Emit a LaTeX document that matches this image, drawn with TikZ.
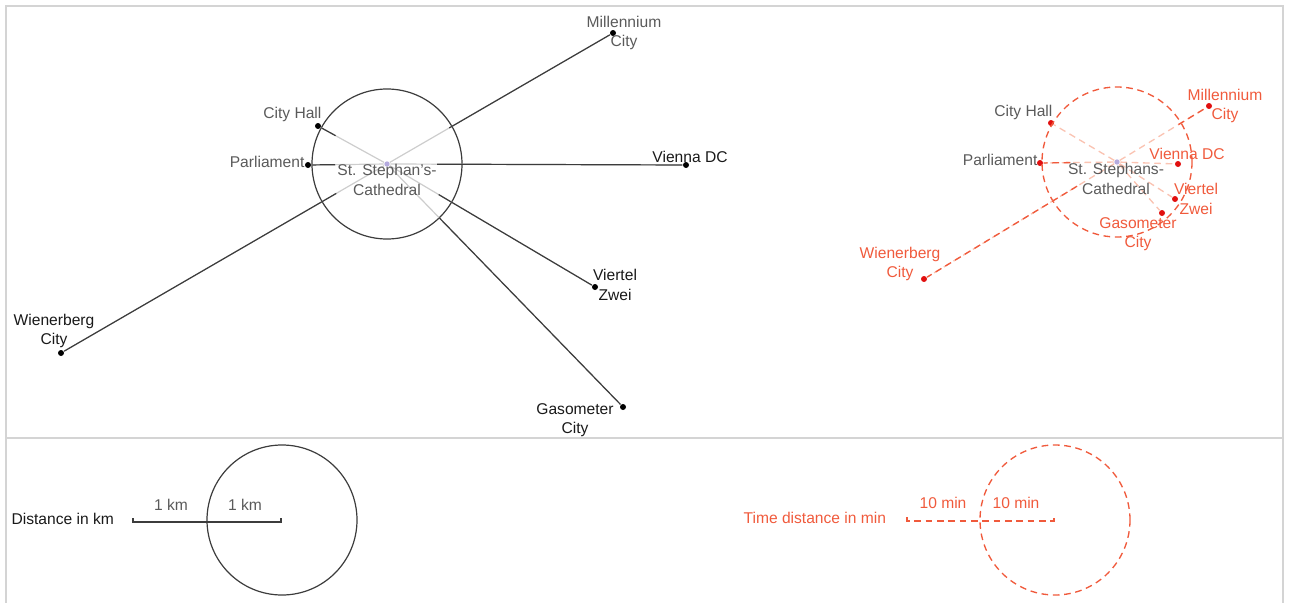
\documentclass[tikz,border=0pt]{standalone}
\usepackage{fontspec}
\setmainfont{Liberation Sans}
\usetikzlibrary{calc}

\definecolor{darkline}{RGB}{60,60,60}
\definecolor{paleline}{RGB}{205,205,205}
\definecolor{labelgray}{RGB}{90,90,90}
\definecolor{labeldark}{RGB}{25,25,25}
\definecolor{timered}{RGB}{240,90,60}
\definecolor{dotred}{RGB}{225,15,15}
\definecolor{palered}{RGB}{250,195,178}
\definecolor{hubdot}{RGB}{180,170,222}
\definecolor{framegray}{RGB}{212,212,212}

\tikzset{every picture/.style={line width=0.9pt}}
\tikzset{
  place/.style={circle,fill=black,inner sep=0pt,minimum size=4.5pt},
  tplace/.style={circle,fill=dotred,inner sep=0pt,minimum size=4.5pt},
  hub/.style={circle,fill=hubdot,inner sep=0pt,minimum size=4pt},
  lbl/.style={inner sep=0.75pt,align=center,font=\fontsize{11.7}{14.5}\selectfont},
  graylbl/.style={lbl,text=labelgray},
  darklbl/.style={lbl,text=labeldark},
  redlbl/.style={lbl,text=timered},
  timedash/.style={draw=timered,line width=1pt,dash pattern=on 5pt off 3.5pt},
  paledash/.style={draw=palered,line width=1pt,dash pattern=on 5pt off 3.5pt}
}

\begin{document}
\begin{tikzpicture}[x=0.75pt,y=0.75pt,yscale=-1,xscale=1]
        \useasboundingbox (0,0) rectangle (1289,603);

        %Shape: Frame
        \draw [framegray,line width=1pt] (6,603) -- (6,6) -- (1283,6) -- (1283,603) ;
        \draw [framegray,line width=1.5pt] (6,438) -- (1283,438) ;

        % Distance map
        \node [hub] (lhub) at (387,164) {};
        \node [place] (lch) at (318,126) {};
        \node [place] (lparl) at (308,165) {};
        \node [place] (lmil) at (613,33) {};
        \node [place] (lvdc) at (686,165) {};
        \node [place] (lvz) at (595,287) {};
        \node [place] (lgas) at (623,407) {};
        \node [place] (lwb) at (61,353) {};

        %Shape: Circle
        \draw [darkline] (lhub) circle (75) ;

        \foreach \p/\d in {lch/44pt,lparl/39pt,lmil/54pt,lvdc/37.5pt,lvz/45pt,lgas/56pt,lwb/44pt}{
          \draw [paleline] (lhub) -- (\p) ;
          \draw [darkline] ($(lhub)!\d!(\p)$) -- (\p) ;
        }

        % Text Node
        \node [graylbl,anchor=east] (lchlbl) at (323,114) {City Hall};
        \node [graylbl,anchor=east] (lparllbl) at (306,162) {Parliament};
        \node [graylbl] (lmillbl) at (624,33) {Millennium\\City};
        \node [darklbl] (lvdclbl) at (690,157) {Vienna DC};
        \node [darklbl] (lvzlbl) at (615,285) {Viertel\\Zwei};
        \node [darklbl] (lgaslbl) at (575,420) {Gasometer\\City};
        \node [darklbl] (lwblbl) at (54,331) {Wienerberg\\City};
        \node [graylbl] (lhublbl) at (387,180) {St. Stephan's-\\Cathedral};

        % Time map
        \node [hub] (rhub) at (1117,162) {};
        \node [tplace] (rch) at (1051,123) {};
        \node [tplace] (rparl) at (1040,163) {};
        \node [tplace] (rmil) at (1209,106) {};
        \node [tplace] (rvdc) at (1178,164) {};
        \node [tplace] (rvz) at (1175,199) {};
        \node [tplace] (rgas) at (1162,213) {};
        \node [tplace] (rwb) at (924,279) {};

        %Shape: Circle
        \draw [timedash] (rhub) circle (75) ;

        \foreach \p in {rch,rparl,rmil,rvdc,rvz,rgas,rwb}{
          \draw [paledash] (rhub) -- (\p) ;
        }
        \foreach \p/\d in {rparl/35pt,rmil/54pt,rwb/35pt}{
          \draw [timedash] ($(rhub)!\d!(\p)$) -- (\p) ;
        }

        % Text Node
        \node [graylbl,anchor=east] (rchlbl) at (1054,112) {City Hall};
        \node [graylbl,anchor=east] (rparllbl) at (1039,160) {Parliament};
        \node [redlbl] (rmillbl) at (1225,106) {Millennium\\City};
        \node [redlbl] (rvdclbl) at (1187,154) {Vienna DC};
        \node [redlbl] (rvzlbl) at (1196,199) {Viertel\\Zwei};
        \node [redlbl] (rgaslbl) at (1138,234) {Gasometer\\City};
        \node [redlbl] (rwblbl) at (900,264) {Wienerberg\\City};
        \node [graylbl] (rhublbl) at (1116,179) {St. Stephans-\\Cathedral};

        % Legend km
        \node [darklbl,anchor=west] (kmlbl) at (10,519) {Distance in km};
        \coordinate (kmA) at (133,522);
        \coordinate (kmB) at (281,522);
        \draw [darkline] ($(kmA)+(0,-4)$) -- (kmA) -- (kmB) -- ($(kmB)+(0,-4)$) ;
        \draw [darkline] (282,520) circle (75) ;
        \node [graylbl] (kmone) at (171,505) {1 km};
        \node [graylbl] (kmtwo) at (245,505) {1 km};

        % Legend min
        \node [redlbl,anchor=west] (minlbl) at (742,518) {Time distance in min};
        \coordinate (minA) at (907,521);
        \coordinate (minB) at (1054,521);
        \draw [timedash] ($(minA)+(0,-4)$) -- (minA) -- (minB) -- ($(minB)+(0,-4)$) ;
        \draw [timedash] (1055,520) circle (75) ;
        \node [redlbl] (minone) at (943,503) {10 min};
        \node [redlbl] (mintwo) at (1016,503) {10 min};
    \end{tikzpicture}
\end{document}
